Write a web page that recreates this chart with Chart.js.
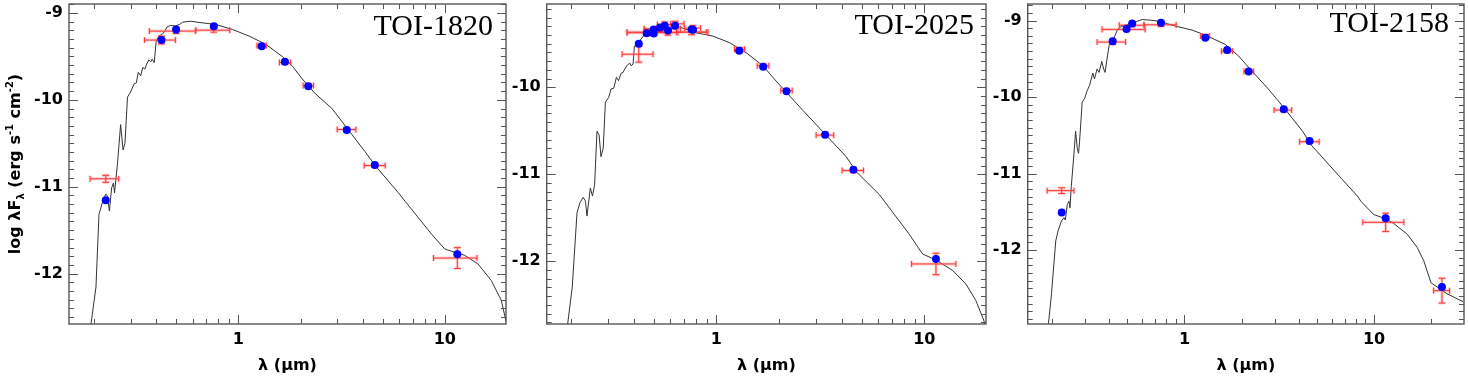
<!DOCTYPE html>
<html>
<head>
<meta charset="utf-8">
<title>SED fits TOI-1820, TOI-2025, TOI-2158</title>
<script src="https://cdn.jsdelivr.net/npm/chart.js"></script>
<style>
  body { margin: 0; background: #ffffff; }
  .wrap { position: relative; width: 1468px; height: 377px; overflow: hidden; }
  canvas { position: absolute; top: 0; }
</style>
</head>
<body>
<div class="wrap">
  <canvas id="c1" width="510" height="377" style="left:0px"></canvas>
  <canvas id="c2" width="480" height="377" style="left:510px"></canvas>
  <canvas id="c3" width="478" height="377" style="left:990px"></canvas>
</div>
<script>
// ---- axis ticks ----
const xMajorTicks = [1, 10];
const xMinorTicks = [0.2, 0.3, 0.4, 0.5, 0.6, 0.7, 0.8, 0.9, 2, 3, 4, 5, 6, 7, 8, 9, 20, 30];
const yMajorTicks = [-9, -10, -11, -12];

// ---- TOI-1820 ----
const model1Wave = [0.192, 0.204, 0.211, 0.219, 0.2275, 0.232, 0.237, 0.243, 0.248, 0.251, 0.259, 0.2686, 0.276, 0.282,
  0.29, 0.30, 0.312, 0.32, 0.327, 0.336, 0.344, 0.352, 0.359, 0.368, 0.376, 0.382, 0.391, 0.399, 0.411, 0.427, 0.44,
  0.451, 0.468, 0.494, 0.518, 0.537, 0.585, 0.63, 0.778, 0.935, 1.126, 1.355, 1.63, 1.82, 2.04, 2.36, 2.84, 3.42, 4.11,
  4.6, 5.96, 6.42, 8.63, 10.0, 12.5, 14.5, 16.8, 18.8, 19.9];
const model1Flux = [-12.62, -12.155, -11.318, -11.185, -11.083, -11.11, -11.28, -11.014, -10.957, -11.07, -10.75, -10.285,
  -10.577, -10.50, -9.969, -9.912, -9.817, -9.806, -9.684, -9.722, -9.627, -9.646, -9.589, -9.54, -9.563, -9.532, -9.57,
  -9.334, -9.266, -9.247, -9.209, -9.16, -9.144, -9.15, -9.133, -9.106, -9.095, -9.106, -9.133, -9.19, -9.266, -9.36,
  -9.50, -9.608, -9.76, -9.93, -10.10, -10.35, -10.597, -10.757, -11.07, -11.167, -11.546, -11.717, -11.79, -11.89,
  -12.08, -12.31, -12.57];
const obs1Wave = [0.2275, 0.424, 0.499, 0.76, 1.296, 1.68, 2.18, 3.35, 4.58, 11.5];
const fit1Flux = [-11.156, -9.312, -9.19, -9.152, -9.384, -9.563, -9.844, -10.346, -10.749, -11.776];
const obs1Flux = [-10.909, -9.312, -9.209, -9.198, -9.376, -9.57, -9.836, -10.342, -10.757, -11.821];
const obs1Lo = [0.191, 0.351, 0.37, 0.623, 1.23, 1.58, 2.06, 3.01, 4.07, 8.82];
const obs1Hi = [0.263, 0.495, 0.618, 0.908, 1.365, 1.79, 2.31, 3.71, 5.14, 14.32];
const obs1Err = [0.04, 0.045, 0.027, 0.023, 0.02, 0.02, 0.02, 0.02, 0.02, 0.12];

// ---- TOI-2025 ----
const model2Wave = [0.192, 0.203, 0.214, 0.221, 0.229, 0.235, 0.239, 0.248, 0.254, 0.26, 0.267, 0.2734, 0.279, 0.286,
  0.293, 0.304, 0.312, 0.3215, 0.331, 0.339, 0.349, 0.3565, 0.363, 0.373, 0.3837, 0.389, 0.398, 0.404, 0.424, 0.452,
  0.468, 0.50, 0.539, 0.58, 0.635, 0.80, 0.963, 1.16, 1.39, 1.68, 1.87, 2.17, 2.61, 3.37, 4.21, 4.7, 6.08, 8.47, 9.82,
  11.4, 13.7, 15.85, 17.7, 19.05, 19.6];
const model2Flux = [-12.76, -12.296, -11.442, -11.328, -11.264, -11.309, -11.48, -11.157, -11.25, -11.12, -10.505, -10.55,
  -10.797, -10.702, -10.171, -10.114, -10.019, -10.011, -9.886, -9.924, -9.837, -9.829, -9.791, -9.746, -9.723, -9.753,
  -9.734, -9.526, -9.48, -9.393, -9.355, -9.328, -9.298, -9.279, -9.29, -9.374, -9.412, -9.488, -9.602, -9.754, -9.886,
  -10.057, -10.266, -10.55, -10.797, -10.968, -11.233, -11.689, -11.916, -11.985, -12.106, -12.26, -12.45, -12.64, -12.72];
const obs2Wave = [0.424, 0.463, 0.5003, 0.5003, 0.5364, 0.565, 0.586, 0.633, 0.761, 0.773, 1.289, 1.681, 2.176, 3.336, 4.563, 11.38];
const fit2Flux = [-9.499, -9.378, -9.336, -9.381, -9.313, -9.294, -9.347, -9.294, -9.336, -9.34, -9.579, -9.765, -10.046, -10.546, -10.949, -11.973];
const obs2Flux = [-9.62, -9.366, -9.343, -9.374, -9.328, -9.279, -9.366, -9.271, -9.366, -9.32, -9.564, -9.753, -10.038, -10.55, -10.956, -12.03];
const obs2Lo = [0.3525, 0.3725, 0.453, 0.3725, 0.4496, 0.521, 0.47, 0.604, 0.643, 0.705, 1.224, 1.573, 2.044, 3.02, 4.026, 8.69];
const obs2Hi = [0.4966, 0.575, 0.555, 0.6546, 0.674, 0.650, 0.895, 0.70, 0.912, 0.841, 1.368, 1.79, 2.317, 3.671, 5.096, 14.19];
const obs2Err = [0.091, 0.03, 0.03, 0.03, 0.03, 0.03, 0.035, 0.03, 0.03, 0.03, 0.02, 0.02, 0.02, 0.02, 0.02, 0.123];

// ---- TOI-2158 ----
const model3Wave = [0.191, 0.199, 0.2095, 0.2155, 0.2244, 0.2316, 0.2354, 0.241, 0.246, 0.249, 0.253, 0.261, 0.2666,
  0.272, 0.2763, 0.2797, 0.2888, 0.297, 0.307, 0.3155, 0.3286, 0.3351, 0.346, 0.3545, 0.3663, 0.375, 0.3813, 0.3937,
  0.4017, 0.418, 0.444, 0.4624, 0.4814, 0.5215, 0.565, 0.60, 0.664, 0.734, 0.897, 1.097, 1.288, 1.639, 1.925, 2.26,
  2.764, 3.38, 4.216, 4.66, 6.69, 8.18, 8.51, 9.92, 11.74, 12.73, 14.95, 16.87, 18.27, 19.0, 19.96, 24.2, 29.6];
const model3Flux = [-13.0, -12.57, -11.879, -11.749, -11.62, -11.577, -11.607, -11.404, -11.361, -11.447, -11.167, -10.757,
  -10.446, -10.67, -10.735, -10.584, -10.066, -10.023, -9.915, -9.85, -9.686, -9.764, -9.634, -9.678, -9.535, -9.634,
  -9.678, -9.44, -9.31, -9.268, -9.117, -9.082, -9.065, -9.039, -9.009, -8.987, -8.996, -9.009, -9.073, -9.125, -9.19,
  -9.311, -9.462, -9.656, -9.893, -10.152, -10.454, -10.627, -11.059, -11.296, -11.36, -11.533, -11.60, -11.655,
  -11.792, -11.965, -12.138, -12.267, -12.427, -12.569, -12.677];
const obs3Wave = [0.2252, 0.418, 0.495, 0.53, 0.7517, 1.288, 1.679, 2.18, 3.34, 4.568, 11.51, 22.8];
const fit3Flux = [-11.508, -9.272, -9.112, -9.039, -9.03, -9.224, -9.384, -9.665, -10.161, -10.575, -11.585, -12.483];
const obs3Flux = [-11.223, -9.281, -9.116, -9.061, -9.056, -9.203, -9.401, -9.665, -10.17, -10.584, -11.637, -12.53];
const obs3Lo = [0.1887, 0.346, 0.3675, 0.453, 0.612, 1.218, 1.569, 2.061, 2.97, 4.05, 8.72, 20.6];
const obs3Hi = [0.2613, 0.489, 0.62, 0.612, 0.904, 1.352, 1.79, 2.317, 3.676, 5.13, 14.36, 25.0];
const obs3Err = [0.037, 0.03, 0.02, 0.02, 0.02, 0.02, 0.02, 0.02, 0.02, 0.02, 0.119, 0.162];

const SANS = '"DejaVu Sans", "Liberation Sans", sans-serif';
const FRAME = '#555555';

function drawErrorBars(chart, o) {
  const xs = chart.scales.x, ys = chart.scales.y, ctx = chart.ctx, a = chart.chartArea;
  ctx.save();
  ctx.beginPath();
  ctx.rect(a.left, a.top, a.right - a.left, a.bottom - a.top);
  ctx.clip();
  const passes = [{ c: 'rgba(255,120,120,0.35)', w: 3 }, { c: '#ff3030', w: 1 }];
  passes.forEach(p => {
    ctx.strokeStyle = p.c;
    ctx.lineWidth = p.w;
    ctx.beginPath();
    o.wave.forEach((w, i) => {
      const x = xs.getPixelForValue(w), y = ys.getPixelForValue(o.flux[i]);
      const x0 = xs.getPixelForValue(o.lo[i]), x1 = xs.getPixelForValue(o.hi[i]);
      const y0 = ys.getPixelForValue(o.flux[i] + o.err[i]), y1 = ys.getPixelForValue(o.flux[i] - o.err[i]);
      ctx.moveTo(x0, y); ctx.lineTo(x1, y);
      ctx.moveTo(x0, y - 3); ctx.lineTo(x0, y + 3);
      ctx.moveTo(x1, y - 3); ctx.lineTo(x1, y + 3);
      ctx.moveTo(x, y0); ctx.lineTo(x, y1);
      ctx.moveTo(x - 3.5, y0); ctx.lineTo(x + 3.5, y0);
      ctx.moveTo(x - 3.5, y1); ctx.lineTo(x + 3.5, y1);
    });
    ctx.stroke();
  });
  ctx.restore();
}

function drawYTitle(ctx, cx, cy) {
  const parts = [
    ['log λF', 16, 0], ['λ', 10, 4], [' (erg s', 16, 0], ['-1', 10, -7], [' cm', 16, 0], ['-2', 10, -7], [')', 16, 0]
  ];
  ctx.save();
  ctx.translate(cx, cy);
  ctx.rotate(-Math.PI / 2);
  ctx.fillStyle = '#000';
  ctx.textBaseline = 'alphabetic';
  ctx.textAlign = 'left';
  let total = 0;
  parts.forEach(p => { ctx.font = 'bold ' + p[1] + 'px ' + SANS; total += ctx.measureText(p[0]).width; });
  let x = -total / 2;
  parts.forEach(p => {
    ctx.font = 'bold ' + p[1] + 'px ' + SANS;
    ctx.fillText(p[0], x, 6 + p[2]);
    x += ctx.measureText(p[0]).width;
  });
  ctx.restore();
}

const sedPlugin = {
  id: 'sed',
  afterDatasetDraw(chart, args, o) {
    if (args.index === 1) drawErrorBars(chart, o);
  },
  afterDraw(chart, args, o) {
    const ctx = chart.ctx, a = chart.chartArea, xs = chart.scales.x, ys = chart.scales.y;
    ctx.save();
    ctx.strokeStyle = FRAME;
    ctx.lineWidth = 1;
    ctx.beginPath();
    const xt = (v, len) => {
      if (v < xs.min || v > xs.max) return;
      const x = Math.round(xs.getPixelForValue(v)) + 0.5;
      ctx.moveTo(x, a.bottom); ctx.lineTo(x, a.bottom - len);
      ctx.moveTo(x, a.top); ctx.lineTo(x, a.top + len);
    };
    xMinorTicks.forEach(v => xt(v, 5));
    xMajorTicks.forEach(v => xt(v, 9));
    for (let k = Math.ceil(ys.min * 10); k <= Math.floor(ys.max * 10); k++) {
      const y = Math.round(ys.getPixelForValue(k / 10)) + 0.5;
      const len = (k % 10 === 0) ? 9 : 5;
      ctx.moveTo(a.left, y); ctx.lineTo(a.left + len, y);
      ctx.moveTo(a.right, y); ctx.lineTo(a.right - len, y);
    }
    ctx.stroke();
    ctx.lineWidth = 1.4;
    ctx.strokeRect(a.left, a.top, a.right - a.left, a.bottom - a.top);
    ctx.fillStyle = '#000';
    ctx.font = '30px "Liberation Serif", "Times New Roman", serif';
    ctx.textAlign = 'right';
    ctx.textBaseline = 'alphabetic';
    ctx.fillText(o.label, a.right - o.labelRight, o.labelBase);
    ctx.restore();
    if (o.yTitle) drawYTitle(ctx, 14, (a.top + a.bottom) / 2);
  }
};

function makeChart(id, p) {
  const points = p.wave.map((w, i) => ({ x: w, y: p.fit[i] }));
  const model = p.mWave.map((w, i) => ({ x: w, y: p.mFlux[i] }));
  return new Chart(document.getElementById(id), {
    type: 'scatter',
    data: {
      datasets: [
        { data: points, pointRadius: 4, pointHoverRadius: 4, backgroundColor: '#0000ff', borderWidth: 0 },
        { data: model, showLine: true, pointRadius: 0, borderColor: '#333333', borderWidth: 1, tension: 0, fill: false }
      ]
    },
    options: {
      responsive: false,
      animation: false,
      events: [],
      layout: { padding: { top: 1, right: p.padRight, bottom: 0, left: 0 } },
      plugins: {
        legend: { display: false },
        tooltip: { enabled: false },
        sed: {
          wave: p.wave, flux: p.obs, lo: p.lo, hi: p.hi, err: p.err,
          label: p.label, labelRight: p.labelRight, labelBase: p.labelBase, yTitle: p.yTitle
        }
      },
      scales: {
        x: {
          type: 'logarithmic',
          min: p.xMin, max: p.xMax,
          grid: { display: false, drawTicks: false },
          border: { display: false },
          ticks: { color: '#000', padding: 6, font: { family: SANS, size: 16, weight: 'bold' }, autoSkip: false, maxRotation: 0,
                   callback: v => String(v) },
          afterBuildTicks: s => { s.ticks = xMajorTicks.map(v => ({ value: v })); },
          afterFit: s => { s.height = 53; s.paddingLeft = 0; s.paddingRight = 0; },
          title: { display: true, text: 'λ (μm)', color: '#000', font: { family: SANS, size: 16, weight: 'bold' }, padding: { top: 0, bottom: 2 } }
        },
        y: {
          min: p.yMin, max: p.yMax,
          grid: { display: false, drawTicks: false },
          border: { display: false },
          ticks: { color: '#000', padding: 6, font: { family: SANS, size: 16, weight: 'bold' }, autoSkip: false,
                   callback: v => String(v) },
          afterBuildTicks: s => { s.ticks = yMajorTicks.filter(v => v >= p.yMin && v <= p.yMax).map(v => ({ value: v })); },
          afterFit: s => { s.width = p.yWidth; s.paddingTop = 0; s.paddingBottom = 0; }
        }
      }
    },
    plugins: [sedPlugin]
  });
}

makeChart('c1', {
  wave: obs1Wave, fit: fit1Flux, obs: obs1Flux, lo: obs1Lo, hi: obs1Hi, err: obs1Err,
  mWave: model1Wave, mFlux: model1Flux,
  xMin: 0.151, xMax: 19.8, yMin: -12.58, yMax: -8.897,
  yWidth: 69, padRight: 2, label: 'TOI-1820', labelRight: 13, labelBase: 35, yTitle: true
});
makeChart('c2', {
  wave: obs2Wave, fit: fit2Flux, obs: obs2Flux, lo: obs2Lo, hi: obs2Hi, err: obs2Err,
  mWave: model2Wave, mFlux: model2Flux,
  xMin: 0.153, xMax: 19.8, yMin: -12.72, yMax: -9.043,
  yWidth: 36.7, padRight: 3.3, label: 'TOI-2025', labelRight: 12, labelBase: 34, yTitle: false
});
makeChart('c3', {
  wave: obs3Wave, fit: fit3Flux, obs: obs3Flux, lo: obs3Lo, hi: obs3Hi, err: obs3Err,
  mWave: model3Wave, mFlux: model3Flux,
  xMin: 0.149, xMax: 29.8, yMin: -12.966, yMax: -8.784,
  yWidth: 37.7, padRight: 0.7, label: 'TOI-2158', labelRight: 15, labelBase: 32, yTitle: false
});
</script>
</body>
</html>
